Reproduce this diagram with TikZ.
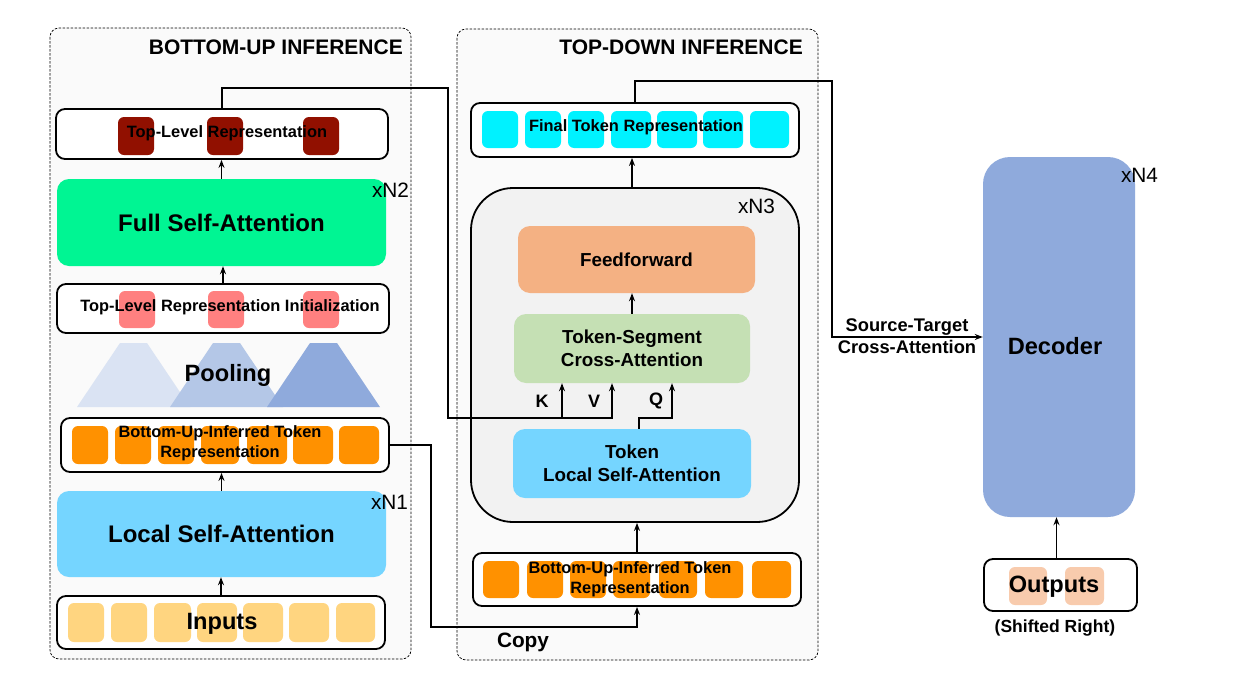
\documentclass[tikz,border=0pt]{standalone}
\usepackage{fontspec}
\setmainfont{Liberation Sans}
\usetikzlibrary{arrows.meta}
\definecolor{panelgray}{RGB}{250,250,250}
\definecolor{encgray}{RGB}{242,242,242}
\definecolor{toprep}{RGB}{145,16,0}
\definecolor{initrep}{RGB}{255,128,128}
\definecolor{fullatt}{RGB}{0,245,147}
\definecolor{localatt}{RGB}{117,213,255}
\definecolor{butok}{RGB}{255,145,0}
\definecolor{inputtok}{RGB}{255,213,128}
\definecolor{finaltok}{RGB}{0,242,255}
\definecolor{ffwd}{RGB}{244,177,131}
\definecolor{crossatt}{RGB}{197,224,180}
\definecolor{decblue}{RGB}{143,170,220}
\definecolor{outtok}{RGB}{248,203,173}
\definecolor{poolA}{RGB}{218,227,243}
\definecolor{poolB}{RGB}{180,199,231}
\newcommand{\setfs}[2]{\fontsize{#1}{#2}\selectfont}
\begin{document}
\begin{tikzpicture}[x=1pt,y=-1pt,inner sep=0pt,>={Stealth[length=8pt,width=6pt]},
  panel/.style={draw,line width=0.7pt,dash pattern=on 2.5pt off 1.5pt,rounded corners=9pt,fill=panelgray},
  strip/.style={draw,line width=1.8pt,rounded corners=9pt,fill=white},
  block/.style={rounded corners=12pt,align=center,font=\bfseries\setfs{24}{28}},
  midblock/.style={rounded corners=12pt,align=center,font=\bfseries\setfs{18.8}{22.5}},
  tok/.style={rounded corners=6pt},
  lbl/.style={font=\bfseries\setfs{16.4}{20},align=center},
  big/.style={font=\bfseries\setfs{23.6}{28}},
  rep/.style={font=\setfs{20.8}{24}},
  head/.style={font=\bfseries\setfs{21}{24},anchor=east},
  wire/.style={line width=1.6pt}]
\useasboundingbox (0,0) rectangle (1235,683);
\fill[white] (0,0) rectangle (1235,683);

% panels
\draw[panel] (50,28) rectangle (411,659);
\draw[panel] (457,29) rectangle (818,660);
\node[head] (butitle) at (403,47) {BOTTOM-UP INFERENCE};
\node[head] (tdtitle) at (803,47) {TOP-DOWN INFERENCE};

% bottom-up
\node[strip,minimum width=332pt,minimum height=50pt] (tlr) at (222,134) {};
\foreach \x in {118,207,303} \fill[toprep,tok] (\x,117) rectangle ++(36,38);
\node[lbl] (tlrtext) at (227,133) {Top-Level Representation};

\node[block,fill=fullatt,minimum width=329pt,minimum height=87pt] (fsa) at (221.5,222.5) {Full Self-Attention};
\node[rep] (n2) at (390.5,190) {xN2};

\node[strip,minimum width=332pt,minimum height=49pt] (tli) at (223,308.5) {};
\foreach \x in {119,208,303} \fill[initrep,tok] (\x,291) rectangle ++(36,37);
\node[lbl] (tlitext) at (230,307) {Top-Level Representation Initialization};

\foreach \c/\col in {133.5/poolA,226.5/poolB,323.5/decblue}
  \fill[\col] (\c-56.5,407) -- (\c-13.5,343) -- (\c+13.5,343) -- (\c+56.5,407) -- cycle;
\node[big] (pool) at (228,375) {Pooling};

\node[strip,minimum width=328pt,minimum height=54pt] (bul) at (225,445) {};
\foreach \x/\w in {72/36,115/36,158/36,201/38,247/40,293/40,339/40} \fill[butok,tok] (\x,426) rectangle ++(\w,38);
\node[lbl] (bultext) at (220,443) {Bottom-Up-Inferred Token\\Representation};

\node[block,fill=localatt,minimum width=329pt,minimum height=86pt] (lsa) at (221.5,534) {Local Self-Attention};
\node[rep] (n1) at (389.5,502) {xN1};

\node[strip,minimum width=328pt,minimum height=53pt] (inp) at (221,622.5) {};
\foreach \x/\w in {68/36,111/36,154/37,197/40,243/40,289/40,336/39} \fill[inputtok,tok] (\x,603) rectangle ++(\w,39);
\node[big] (inptext) at (222,624) {Inputs};

\draw[wire,->] (inp.north) -- (inp.north |- lsa.south);
\draw[wire,->] (lsa.north) -- (lsa.north |- bul.south);
\draw[wire,->] (tli.north) -- (tli.north |- fsa.south);
\draw[wire,->] (fsa.north) -- (fsa.north |- tlr.south);

% top-down
\node[strip,minimum width=328pt,minimum height=54pt] (ftr) at (635,130) {};
\foreach \x/\w in {482/36,525/36,568/36,611/40,657/40,703/40,750/39} \fill[finaltok,tok] (\x,111) rectangle ++(\w,37);
\node[lbl] (ftrtext) at (636,127) {Final Token Representation};

\node[draw,line width=1.8pt,fill=encgray,rounded corners=42pt,minimum width=328pt,minimum height=334pt] (enc) at (635,355) {};
\node[rep] (n3) at (756.5,206) {xN3};
\node[midblock,fill=ffwd,minimum width=237pt,minimum height=67pt] (ff) at (636.5,259.5) {Feedforward};
\node[midblock,fill=crossatt,minimum width=236pt,minimum height=69pt] (tsca) at (632,348.5) {Token-Segment\\Cross-Attention};
\node[midblock,fill=localatt,minimum width=238pt,minimum height=69pt] (tlsa) at (632,463.5) {Token\\Local Self-Attention};

\node[strip,minimum width=328pt,minimum height=53pt] (bur) at (637,579.5) {};
\foreach \x/\w in {483/36,527/36,570/36,613/37,659/38,705/38,752/39} \fill[butok,tok] (\x,561) rectangle ++(\w,37);
\node[lbl] (burtext) at (630,579) {Bottom-Up-Inferred Token\\Representation};

\draw[wire,->] (bur.north) -- (bur.north |- enc.south);
\draw[wire,->] (tsca.north) -- (tsca.north |- ff.south);
\draw[wire,->] ([xshift=-3pt]enc.north) -- ([xshift=-3pt]enc.north |- ftr.south);

% K V Q
\coordinate (upturn) at (448,88);
\coordinate (kvturn) at (448,418);
\coordinate (kfoot) at (562,418);
\draw[wire,->] (tlr.north) |- (upturn) -- (kvturn) -| ([xshift=-20pt]tsca.south);
\draw[wire,->] (kfoot) -- (kfoot |- tsca.south);
\draw[wire,->] ([xshift=7pt]tlsa.north) -- ++(0,-11) -| ([xshift=40pt]tsca.south);
\node[font=\bfseries\setfs{18}{22}] (klbl) at (542,401) {K};
\node[font=\bfseries\setfs{18}{22}] (vlbl) at (594,401) {V};
\node[font=\bfseries\setfs{18}{22}] (qlbl) at (656,401) {Q};

% copy
\coordinate (copyturn) at (431,627);
\draw[wire,->] (bul.east) -| (copyturn) -| (bur.south);
\node[font=\bfseries\setfs{20.8}{24}] (copylbl) at (523,642) {Copy};

% decoder
\node[big,fill=decblue,rounded corners=27pt,minimum width=152pt,minimum height=360pt] (dec) at (1059,337) {};
\node[big] (dectext) at (1055,346) {Decoder};
\node[rep] (n4) at (1139.5,175) {xN4};
\node[strip,minimum width=153pt,minimum height=52pt] (outb) at (1060.5,585) {};
\foreach \x/\w in {1009/38,1065/39} \fill[outtok,tok] (\x,567) rectangle ++(\w,38);
\node[big] (outtext) at (1054,587) {Outputs};
\node[font=\bfseries\setfs{17.5}{21}] (shift) at (1055,628) {(Shifted Right)};
\draw[wire,->] ([xshift=-4pt]outb.north) -- ([xshift=-4pt]outb.north |- dec.south);

\coordinate (stturn) at (832,81);
\draw[wire,->] (ftr.north) |- (stturn) |- (dec.west);
\node[font=\bfseries\setfs{18.3}{22},align=center] (sttext) at (907,336.5) {Source-Target\\Cross-Attention};
\end{tikzpicture}
\end{document}
